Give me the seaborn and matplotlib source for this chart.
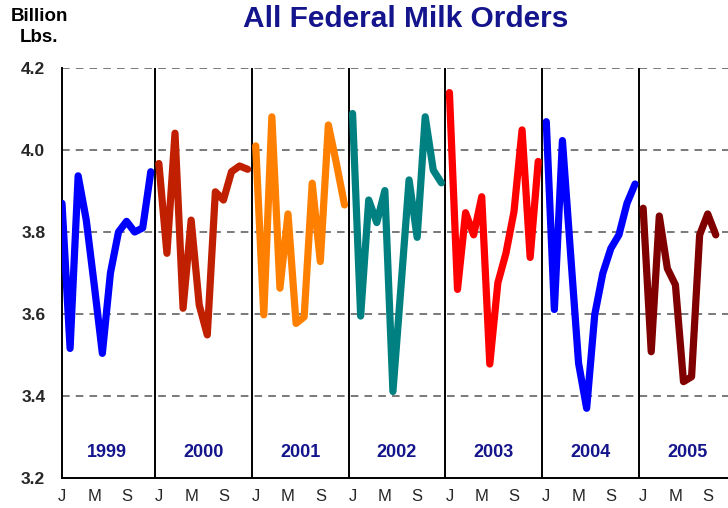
import matplotlib
matplotlib.use("Agg")
import matplotlib.pyplot as plt
import seaborn as sns
import pandas as pd
import numpy as np

years = ["1999", "2000", "2001", "2002", "2003", "2004", "2005"]
v1999 = [3.870, 3.516, 3.937, 3.830, 3.670, 3.504, 3.700, 3.800, 3.826, 3.800, 3.810, 3.947]
v2000 = [3.967, 3.748, 4.041, 3.614, 3.829, 3.622, 3.549, 3.898, 3.878, 3.947, 3.961, 3.953]
v2001 = [4.010, 3.598, 4.081, 3.663, 3.844, 3.577, 3.593, 3.919, 3.728, 4.061, 3.967, 3.866]
v2002 = [4.089, 3.595, 3.878, 3.823, 3.901, 3.411, 3.667, 3.927, 3.787, 4.081, 3.951, 3.920]
v2003 = [4.140, 3.660, 3.847, 3.793, 3.886, 3.478, 3.676, 3.748, 3.850, 4.049, 3.738, 3.972]
v2004 = [4.069, 3.611, 4.023, 3.750, 3.480, 3.370, 3.598, 3.699, 3.760, 3.793, 3.870, 3.917]
v2005 = [3.858, 3.508, 3.839, 3.711, 3.671, 3.435, 3.447, 3.793, 3.844, 3.793]
series = [v1999, v2000, v2001, v2002, v2003, v2004, v2005]
colors = ["#0000FF", "#C02000", "#FF8000", "#008080", "#FF0000", "#0000FF", "#800000"]
month_labels = ["J", "M", "S"]
y_ticks = [3.2, 3.4, 3.6, 3.8, 4.0, 4.2]

rows = []
for yi, (yr, vals) in enumerate(zip(years, series)):
    for m, v in enumerate(vals):
        rows.append({"year": yr, "idx": yi * 12 + m, "value": v})
df = pd.DataFrame(rows)

sns.set_style("white")
plt.rcParams["font.family"] = ["Liberation Sans", "DejaVu Sans"]

fig = plt.figure(figsize=(7.28, 5.08), dpi=100)
ax = fig.add_axes([62 / 728, 30 / 508, 678 / 728, 410 / 508])

palette = dict(zip(years, colors))
sns.lineplot(data=df, x="idx", y="value", hue="year", palette=palette,
             linewidth=5.2, legend=False, ax=ax, sort=True,
             solid_joinstyle="round", solid_capstyle="round", zorder=3)

ax.set_xlim(0, 84)
ax.set_ylim(3.2, 4.2)

for yv in y_ticks[1:]:
    ax.axhline(yv, color="#555555", lw=1.1, ls=(0, (5, 4)), zorder=1)
for k in range(1, 7):
    ax.axvline(k * 12 - 0.5, color="black", lw=1.4, zorder=2)

ax.set_yticks(y_ticks)
ax.set_yticklabels([f"{t:.1f}" for t in y_ticks], fontsize=12.5, fontweight="bold")
xt = []
xl = []
for yi in range(7):
    for j, lab in enumerate(month_labels):
        xt.append(yi * 12 + j * 4)
        xl.append(lab)
ax.set_xticks(xt)
ax.set_xticklabels(xl, fontsize=12)
ax.tick_params(axis="y", length=0, pad=12)
ax.tick_params(axis="x", length=0, pad=8)
ax.set_xticks([k * 12 - 0.5 for k in range(1, 7)], minor=True)
ax.tick_params(axis="x", which="minor", length=4, width=1.2, color="black")

ax.set_xlabel("")
ax.set_ylabel("")
for s in ["top", "right"]:
    ax.spines[s].set_visible(False)
for s in ["left", "bottom"]:
    ax.spines[s].set_color("black")
    ax.spines[s].set_linewidth(1.4)

for yi, yr in enumerate(years):
    ax.text(yi * 12 + 5.5, 3.262, yr, ha="center", va="center",
            fontsize=13, fontweight="bold", color="#14148C")

fig.text(406 / 728, 1 - 19 / 508, "All Federal Milk Orders", ha="center", va="center",
         fontsize=21.5, fontweight="bold", color="#14148C")
fig.text(39 / 728, 1 - 27 / 508, "Billion\nLbs.", ha="center", va="center",
         fontsize=13.5, fontweight="bold", color="black", linespacing=1.25)

fig.savefig("out.png", dpi=100)
